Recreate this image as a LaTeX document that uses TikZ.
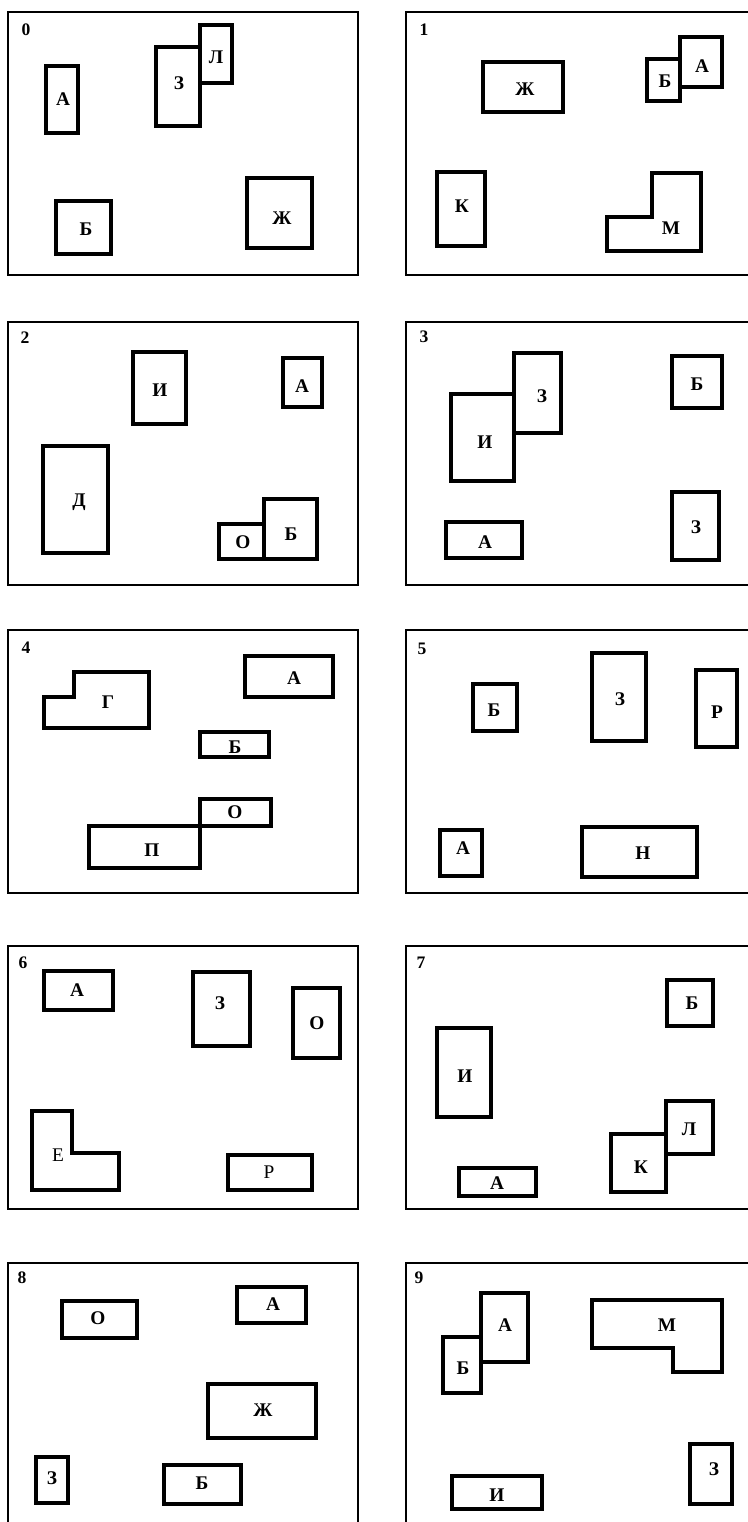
\documentclass[tikz,border=0pt]{standalone}
\usepackage{fontspec}
\setmainfont{Liberation Serif}
\usepackage{tikz}
\usetikzlibrary{positioning}

\tikzset{
  panel/.style={line width=1.5pt, draw=black},
  blk/.style={line width=1.75pt, draw=black},
  lbl/.style={font=\bfseries\fontsize{11}{13}\selectfont, inner sep=0pt},
  lblr/.style={font=\fontsize{11}{13}\selectfont, inner sep=0pt},
  num/.style={font=\bfseries\fontsize{10}{12}\selectfont, inner sep=0pt}
}

\begin{document}
\begin{tikzpicture}
    \useasboundingbox (0,0) rectangle (14.96,30.44);

    % =========================================================
    % VARIANT 0
    % =========================================================
    \begin{scope}[shift={(0.16,24.94)}]
        \draw[panel] (0,0) rectangle (7.0,5.26);
        \node[num] (n0) at (0.36,4.9) {0};
        \draw[blk] (0.76,2.84) rectangle (1.40,4.18);
        \node[lbl] (p0a) at (1.10,3.52) {А};
        \draw[blk] (2.96,2.98) rectangle (3.84,4.56);
        \node[lbl] (p0z) at (3.42,3.84) {З};
        \draw[blk] (3.84,3.84) rectangle (4.48,5.00);
        \node[lbl] (p0l) at (4.16,4.36) {Л};
        \draw[blk] (0.96,0.42) rectangle (2.06,1.48);
        \node[lbl] (p0b) at (1.56,0.92) {Б};
        \draw[blk] (4.78,0.54) rectangle (6.08,1.94);
        \node[lbl] (p0zh) at (5.48,1.14) {Ж};
    \end{scope}

    % =========================================================
    % VARIANT 1
    % =========================================================
    \begin{scope}[shift={(8.12,24.94)}]
        \draw[panel] (0,0) rectangle (7.0,5.26);
        \node[num] (n1) at (0.36,4.9) {1};
        \draw[blk] (1.54,3.26) rectangle (3.14,4.26);
        \node[lbl] (p1zh) at (2.38,3.72) {Ж};
        \draw[blk] (4.82,3.48) rectangle (5.48,4.32);
        \node[lbl] (p1b) at (5.18,3.88) {Б};
        \draw[blk] (5.48,3.76) rectangle (6.32,4.76);
        \node[lbl] (p1a) at (5.92,4.18) {А};
        \draw[blk] (0.62,0.58) rectangle (1.58,2.06);
        \node[lbl] (p1k) at (1.12,1.38) {К};
        % L-shaped block
        \draw[blk] (4.02,1.16) -- (4.92,1.16) -- (4.92,2.04) -- (5.90,2.04)
            -- (5.90,0.48) -- (4.02,0.48) -- cycle;
        \node[lbl] (p1m) at (5.30,0.94) {М};
    \end{scope}

    % =========================================================
    % VARIANT 2
    % =========================================================
    \begin{scope}[shift={(0.16,18.74)}]
        \draw[panel] (0,0) rectangle (7.0,5.26);
        \node[num] (n2) at (0.34,4.94) {2};
        \draw[blk] (2.50,3.22) rectangle (3.56,4.66);
        \node[lbl] (p2i) at (3.04,3.90) {И};
        \draw[blk] (5.50,3.56) rectangle (6.28,4.54);
        \node[lbl] (p2a) at (5.88,3.98) {А};
        \draw[blk] (0.70,0.64) rectangle (2.00,2.78);
        \node[lbl] (p2d) at (1.42,1.66) {Д};
        \draw[blk] (5.12,0.52) rectangle (6.18,1.72);
        \node[lbl] (p2b) at (5.66,1.02) {Б};
        \draw[blk] (4.22,0.52) rectangle (5.12,1.22);
        \node[lbl] (p2o) at (4.70,0.86) {О};
    \end{scope}

    % =========================================================
    % VARIANT 3
    % =========================================================
    \begin{scope}[shift={(8.12,18.74)}]
        \draw[panel] (0,0) rectangle (7.0,5.26);
        \node[num] (n3) at (0.36,4.96) {3};
        \draw[blk] (2.16,3.04) rectangle (3.10,4.64);
        \node[lbl] (p3z) at (2.72,3.78) {З};
        \draw[blk] (0.90,2.08) rectangle (2.16,3.82);
        \node[lbl] (p3i) at (1.58,2.86) {И};
        \draw[blk] (0.80,0.54) rectangle (2.32,1.26);
        \node[lbl] (p3a) at (1.58,0.86) {А};
        \draw[blk] (5.32,3.54) rectangle (6.32,4.58);
        \node[lbl] (p3b) at (5.82,4.02) {Б};
        \draw[blk] (5.32,0.50) rectangle (6.26,1.86);
        \node[lbl] (p3zz) at (5.80,1.16) {З};
    \end{scope}

    % =========================================================
    % VARIANT 4
    % =========================================================
    \begin{scope}[shift={(0.16,12.58)}]
        \draw[panel] (0,0) rectangle (7.0,5.26);
        \node[num] (n4) at (0.36,4.90) {4};
        % L-shaped block
        \draw[blk] (0.72,3.92) -- (1.32,3.92) -- (1.32,4.42) -- (2.82,4.42)
            -- (2.82,3.30) -- (0.72,3.30) -- cycle;
        \node[lbl] (p4g) at (2.00,3.82) {Г};
        \draw[blk] (4.74,3.92) rectangle (6.50,4.74);
        \node[lbl] (p4a) at (5.72,4.30) {А};
        \draw[blk] (3.84,2.72) rectangle (5.22,3.22);
        \node[lbl] (p4b) at (4.54,2.92) {Б};
        \draw[blk] (3.84,1.34) rectangle (5.26,1.88);
        \node[lbl] (p4o) at (4.54,1.62) {О};
        \draw[blk] (1.62,0.50) rectangle (3.84,1.34);
        \node[lbl] (p4p) at (2.88,0.86) {П};
    \end{scope}

    % =========================================================
    % VARIANT 5
    % =========================================================
    \begin{scope}[shift={(8.12,12.58)}]
        \draw[panel] (0,0) rectangle (7.0,5.26);
        \node[num] (n5) at (0.32,4.88) {5};
        \draw[blk] (1.34,3.24) rectangle (2.22,4.18);
        \node[lbl] (p5b) at (1.76,3.66) {Б};
        \draw[blk] (3.72,3.04) rectangle (4.80,4.80);
        \node[lbl] (p5z) at (4.28,3.88) {З};
        \draw[blk] (5.80,2.92) rectangle (6.62,4.46);
        \node[lbl] (p5r) at (6.22,3.62) {Р};
        \draw[blk] (0.68,0.34) rectangle (1.52,1.26);
        \node[lbl] (p5a) at (1.14,0.90) {А};
        \draw[blk] (3.52,0.32) rectangle (5.82,1.32);
        \node[lbl] (p5n) at (4.74,0.80) {Н};
    \end{scope}

    % =========================================================
    % VARIANT 6
    % =========================================================
    \begin{scope}[shift={(0.16,6.26)}]
        \draw[panel] (0,0) rectangle (7.0,5.26);
        \node[num] (n6) at (0.30,4.92) {6};
        \draw[blk] (0.72,3.98) rectangle (2.10,4.76);
        \node[lbl] (p6a) at (1.38,4.38) {А};
        \draw[blk] (3.70,3.26) rectangle (4.84,4.74);
        \node[lbl] (p6z) at (4.24,4.12) {З};
        \draw[blk] (5.70,3.02) rectangle (6.64,4.42);
        \node[lbl] (p6o) at (6.18,3.72) {О};
        % L-shaped block
        \draw[blk] (0.48,1.96) -- (1.28,1.96) -- (1.28,1.12) -- (2.22,1.12)
            -- (2.22,0.38) -- (0.48,0.38) -- cycle;
        \node[lblr] (p6e) at (1.00,1.08) {Е};
        \draw[blk] (4.40,0.38) rectangle (6.08,1.08);
        \node[lblr] (p6r) at (5.22,0.74) {Р};
    \end{scope}

    % =========================================================
    % VARIANT 7
    % =========================================================
    \begin{scope}[shift={(8.12,6.26)}]
        \draw[panel] (0,0) rectangle (7.0,5.26);
        \node[num] (n7) at (0.30,4.92) {7};
        \draw[blk] (5.22,3.66) rectangle (6.14,4.58);
        \node[lbl] (p7b) at (5.72,4.12) {Б};
        \draw[blk] (0.62,1.84) rectangle (1.70,3.62);
        \node[lbl] (p7i) at (1.18,2.66) {И};
        \draw[blk] (5.20,1.10) rectangle (6.14,2.16);
        \node[lbl] (p7l) at (5.66,1.60) {Л};
        \draw[blk] (4.10,0.34) rectangle (5.20,1.50);
        \node[lbl] (p7k) at (4.70,0.84) {К};
        \draw[blk] (1.06,0.26) rectangle (2.60,0.82);
        \node[lbl] (p7a) at (1.82,0.52) {А};
    \end{scope}

    % =========================================================
    % VARIANT 8
    % =========================================================
    \begin{scope}[shift={(0.16,-0.08)}]
        \draw[panel] (0,0) rectangle (7.0,5.26);
        \node[num] (n8) at (0.28,4.96) {8};
        \draw[blk] (1.08,3.76) rectangle (2.58,4.50);
        \node[lbl] (p8o) at (1.80,4.16) {О};
        \draw[blk] (4.58,4.06) rectangle (5.96,4.78);
        \node[lbl] (p8a) at (5.30,4.44) {А};
        \draw[blk] (4.00,1.76) rectangle (6.16,2.84);
        \node[lbl] (p8zh) at (5.10,2.32) {Ж};
        \draw[blk] (0.56,0.46) rectangle (1.20,1.38);
        \node[lbl] (p8z) at (0.88,0.96) {З};
        \draw[blk] (3.12,0.44) rectangle (4.66,1.22);
        \node[lbl] (p8b) at (3.88,0.86) {Б};
    \end{scope}

    % =========================================================
    % VARIANT 9
    % =========================================================
    \begin{scope}[shift={(8.12,-0.08)}]
        \draw[panel] (0,0) rectangle (7.0,5.26);
        \node[num] (n9) at (0.26,4.96) {9};
        \draw[blk] (1.50,3.28) rectangle (2.44,4.66);
        \node[lbl] (p9a) at (1.98,4.02) {А};
        \draw[blk] (0.74,2.66) rectangle (1.50,3.78);
        \node[lbl] (p9b) at (1.14,3.16) {Б};
        % L-shaped block
        \draw[blk] (3.72,4.52) -- (6.32,4.52) -- (6.32,3.08) -- (5.34,3.08)
            -- (5.34,3.56) -- (3.72,3.56) -- cycle;
        \node[lbl] (p9m) at (5.22,4.02) {М};
        \draw[blk] (5.68,0.44) rectangle (6.52,1.64);
        \node[lbl] (p9z) at (6.16,1.14) {З};
        \draw[blk] (0.92,0.34) rectangle (2.72,1.00);
        \node[lbl] (p9i) at (1.82,0.62) {И};
    \end{scope}
\end{tikzpicture}
\end{document}
